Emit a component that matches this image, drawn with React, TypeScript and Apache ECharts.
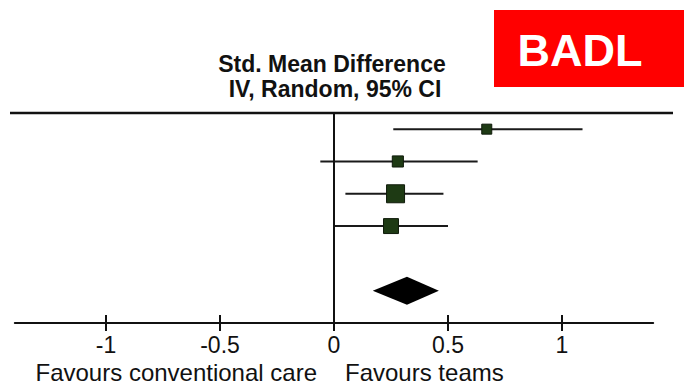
import React, { useEffect, useRef } from "react";
import * as echarts from "echarts";

// ---- data ----
const smd = [0.67, 0.28, 0.27, 0.25];
const ciLow = [0.26, -0.06, 0.05, 0.0];
const ciHigh = [1.09, 0.63, 0.48, 0.5];
const weights = [13, 16, 42, 29];
const pooledEst = [0.32];
const pooledLow = [0.17];
const pooledHigh = [0.46];
const tickValues = [-1, -0.5, 0, 0.5, 1];
const titleLines = ["Std. Mean Difference", "IV, Random, 95% CI"];
const favoursLeft = "Favours conventional care";
const favoursRight = "Favours teams";
const badge = "BADL";

const FONT = "'Liberation Sans', Arial, sans-serif";
const INK = "#111111";

export default function App() {
  const ref = useRef<HTMLDivElement>(null);

  useEffect(() => {
    if (!ref.current) return;
    const chart = echarts.init(ref.current, undefined, { renderer: "svg" });
    const maxW = Math.max(...weights);
    const studyData = smd.map((v, i) => [ciLow[i], ciHigh[i], v, i + 0.5, weights[i]]);
    const pooledData = pooledEst.map((v, i) => [pooledLow[i], pooledHigh[i], v, smd.length + 1.5]);

    const option: any = {
      animation: false,
      backgroundColor: "#ffffff",
      grid: { left: 14.8, right: 33.8, top: 113, height: 210 },
      xAxis: [
        {
          type: "value",
          min: -1.4,
          max: 1.4,
          position: "bottom",
          splitLine: { show: false },
          axisLine: { show: true, onZero: false, lineStyle: { color: INK, width: 2 } },
          axisTick: { show: true, customValues: tickValues, length: 8, lineStyle: { color: INK, width: 2 } },
          axisLabel: {
            show: true,
            customValues: tickValues,
            fontSize: 23,
            color: INK,
            fontFamily: FONT,
            margin: 10,
          },
        },
        {
          type: "value",
          min: -1.4,
          max: 1.4,
          position: "top",
          offset: -210,
          splitLine: { show: false },
          axisLine: { show: false },
          axisTick: { show: true, customValues: tickValues, length: 8, lineStyle: { color: INK, width: 2 } },
          axisLabel: { show: false },
        },
      ],
      yAxis: { type: "value", min: 0, max: 6.5, inverse: true, show: false },
      series: [
        {
          type: "custom",
          xAxisIndex: 0,
          data: studyData,
          encode: { x: [0, 1, 2], y: 3 },
          renderItem: (params: any, api: any) => {
            const y = api.value(3);
            const lo = api.coord([api.value(0), y]);
            const hi = api.coord([api.value(1), y]);
            const pt = api.coord([api.value(2), y]);
            const s = Math.sqrt(api.value(4) / maxW) * 18;
            return {
              type: "group",
              children: [
                {
                  type: "line",
                  shape: { x1: lo[0], y1: lo[1], x2: hi[0], y2: hi[1] },
                  style: { stroke: "#1a1a1a", lineWidth: 2 },
                },
                {
                  type: "rect",
                  shape: { x: pt[0] - s / 2, y: pt[1] - s / 2, width: s, height: s },
                  style: { fill: "#1e3a14", stroke: "#0f1a0a", lineWidth: 1 },
                },
              ],
            };
          },
          markLine: {
            silent: true,
            symbol: "none",
            label: { show: false },
            lineStyle: { color: INK, width: 2, type: "solid" },
            data: [{ xAxis: 0 }],
          },
        },
        {
          type: "custom",
          xAxisIndex: 0,
          data: pooledData,
          encode: { x: [0, 1, 2], y: 3 },
          renderItem: (params: any, api: any) => {
            const y = api.value(3);
            const lo = api.coord([api.value(0), y]);
            const hi = api.coord([api.value(1), y]);
            const pt = api.coord([api.value(2), y]);
            const h = 14;
            return {
              type: "polygon",
              shape: {
                points: [
                  [lo[0], lo[1]],
                  [pt[0], pt[1] - h],
                  [hi[0], hi[1]],
                  [pt[0], pt[1] + h],
                ],
              },
              style: { fill: "#000000" },
            };
          },
        },
      ],
      graphic: [
        {
          type: "line",
          shape: { x1: 10, y1: 113, x2: 673, y2: 113 },
          style: { stroke: INK, lineWidth: 2.5 },
          z: 10,
        },
        {
          type: "text",
          x: 332,
          y: 64,
          style: {
            text: titleLines[0],
            fontSize: 23,
            fontWeight: "bold",
            fontFamily: FONT,
            fill: INK,
            textAlign: "center",
            textVerticalAlign: "middle",
          },
        },
        {
          type: "text",
          x: 335,
          y: 89,
          style: {
            text: titleLines[1],
            fontSize: 23,
            fontWeight: "bold",
            fontFamily: FONT,
            fill: INK,
            textAlign: "center",
            textVerticalAlign: "middle",
          },
        },
        {
          type: "text",
          x: 317,
          y: 372,
          style: {
            text: favoursLeft,
            fontSize: 24,
            fontFamily: FONT,
            fill: INK,
            textAlign: "right",
            textVerticalAlign: "middle",
          },
        },
        {
          type: "text",
          x: 345,
          y: 372,
          style: {
            text: favoursRight,
            fontSize: 24,
            fontFamily: FONT,
            fill: INK,
            textAlign: "left",
            textVerticalAlign: "middle",
          },
        },
        {
          type: "rect",
          shape: { x: 494, y: 10, width: 190, height: 77 },
          style: { fill: "#ff0000" },
        },
        {
          type: "text",
          x: 580,
          y: 50,
          style: {
            text: badge,
            fontSize: 45,
            fontWeight: "bold",
            fontFamily: FONT,
            fill: "#ffffff",
            textAlign: "center",
            textVerticalAlign: "middle",
          },
        },
      ],
    };

    chart.setOption(option);
    return () => chart.dispose();
  }, []);

  return (
    <div
      ref={ref}
      style={{ position: "fixed", left: 0, top: 0, width: 687, height: 387, background: "#fff" }}
    />
  );
}
